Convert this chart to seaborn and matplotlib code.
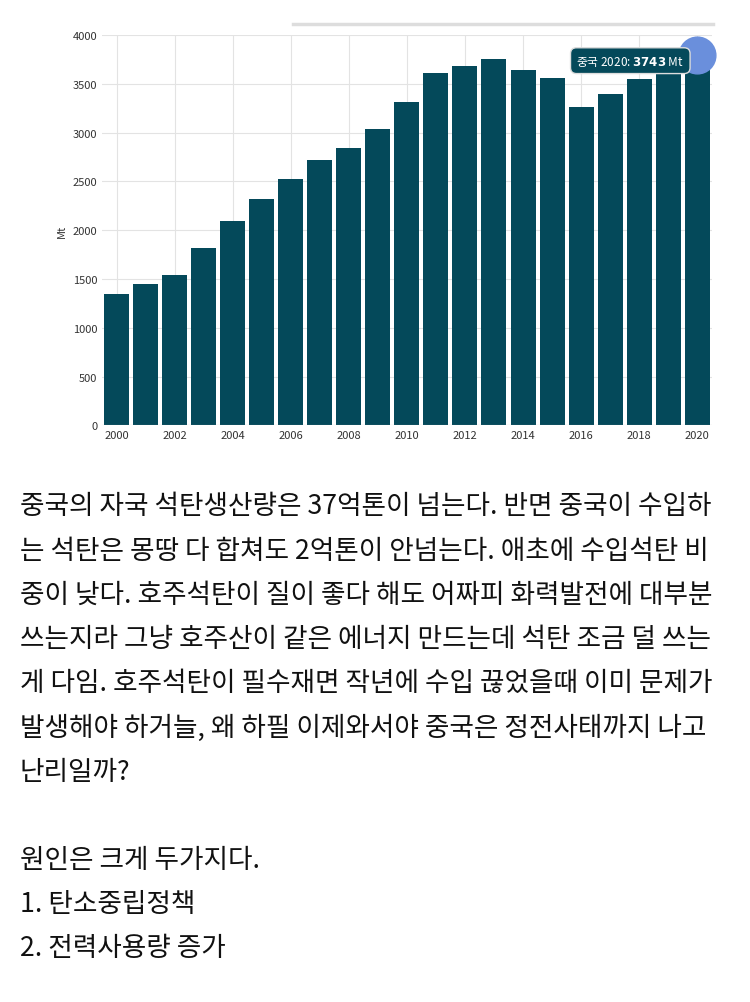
import matplotlib
matplotlib.use("Agg")
import matplotlib.pyplot as plt
import seaborn as sns
import pandas as pd

years = list(range(2000, 2021))
coal_mt = [1350, 1450, 1540, 1820, 2090, 2320, 2520, 2720, 2840, 3040, 3310,
           3610, 3680, 3750, 3640, 3560, 3260, 3400, 3550, 3690, 3743]
tick_years = [y for y in years if y % 2 == 0]

body_lines = [
    "중국의 자국 석탄생산량은 37억톤이 넘는다. 반면 중국이 수입하",
    "는 석탄은 몽땅 다 합쳐도 2억톤이 안넘는다. 애초에 수입석탄 비",
    "중이 낮다. 호주석탄이 질이 좋다 해도 어짜피 화력발전에 대부분",
    "쓰는지라 그냥 호주산이 같은 에너지 만드는데 석탄 조금 덜 쓰는",
    "게 다임. 호주석탄이 필수재면 작년에 수입 끊었을때 이미 문제가",
    "발생해야 하거늘, 왜 하필 이제와서야 중국은 정전사태까지 나고",
    "난리일까?",
    "",
    "원인은 크게 두가지다.",
    "1. 탄소중립정책",
    "2. 전력사용량 증가",
]

plt.rcParams["font.family"] = ["Noto Sans CJK JP"]
fig = plt.figure(figsize=(7.5, 10.03), dpi=100)
ax = fig.add_axes([0.136, 0.575, 0.813, 0.389])

df = pd.DataFrame({"year": years, "mt": coal_mt})
sns.barplot(data=df, x="year", y="mt", color="#04495a", saturation=1,
            width=0.86, ax=ax, zorder=3)
ax.set_ylim(0, 4000)
ax.set_xlim(-0.5, len(years) - 0.5)
ax.set_yticks(range(0, 4001, 500))
ax.set_xticks([years.index(y) for y in tick_years])
ax.set_xticklabels([str(y) for y in tick_years])
ax.tick_params(labelsize=8, length=0, colors="#333333")
ax.set_xlabel("")
ax.set_ylabel("Mt", fontsize=8, color="#333333")
ax.grid(True, color="#e3e3e3", lw=0.8, zorder=0)
for s in ax.spines.values():
    s.set_visible(False)
ax.axhline(0, color="#bbbbbb", lw=0.8, zorder=4)

# tooltip
last = len(years) - 1
ax.scatter([last], [coal_mt[-1] + 50], s=700, color="#6a8fdc", zorder=5, clip_on=False)
ax.annotate(f"중국 {years[-1]}: $\\bf{{{coal_mt[-1]}}}$ Mt", xy=(last - 0.45, coal_mt[-1] - 5),
            ha="right", va="center", fontsize=8.5, color="white", zorder=6,
            annotation_clip=False,
            bbox=dict(boxstyle="round,pad=0.5", fc="#04495a", ec="#dddddd"))

# range slider line at top
fig.add_artist(plt.Line2D([0.39, 0.95], [0.975, 0.975], color="#dddddd", lw=2.5))

y = 1 - 507 / 1003
for line in body_lines:
    fig.text(20 / 750, y, line, fontsize=19.2, color="#111111", va="center")
    y -= 44.2 / 1003

fig.savefig("out.png", dpi=100)
